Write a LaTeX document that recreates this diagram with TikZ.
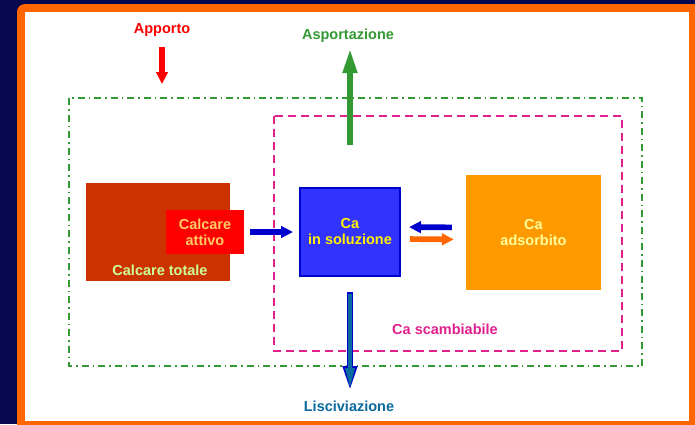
\documentclass[tikz,border=0pt]{standalone}
\usepackage{fontspec}
\setmainfont{Liberation Sans}
\usetikzlibrary{calc,arrows.meta}
\definecolor{fondo}{HTML}{08084E}
\definecolor{cornice}{HTML}{FF6600}
\definecolor{verde}{HTML}{339933}
\definecolor{magenta}{HTML}{E0208C}
\definecolor{mattone}{HTML}{CC3300}
\definecolor{blusol}{HTML}{3333FF}
\definecolor{bluscuro}{HTML}{0000CC}
\definecolor{arancio}{HTML}{FF9900}
\definecolor{ottanio}{HTML}{0B6A9E}
\definecolor{verdino}{HTML}{CCFF99}
\definecolor{crema}{HTML}{FFCC66}
\definecolor{giallino}{HTML}{FFFF99}
\tikzset{
  testo/.style={font=\fontsize{14.5}{16}\selectfont\bfseries,align=center,inner sep=1pt},
  blocco/.style={testo,minimum width=#1,inner sep=0pt},
  freccina/.style={line width=5.7pt,-{Triangle[width=11.5pt,length=12pt]}},
  freccione/.style={line width=6.5pt,-{Triangle[width=13pt,length=26pt]}},
}
\begin{document}
\begin{tikzpicture}[x=1pt,y=-1pt]
  \useasboundingbox (0,0) rectangle (695,424);
  \fill[fondo] (0,0) rectangle (695,424);
  \fill[cornice,rounded corners=8pt] (17,4) rectangle (705,440);
  \fill[white] (25,12) rectangle (689,421);
  % riquadri tratteggiati
  \draw[verde,line width=1.6pt,dash pattern=on 7pt off 4pt on 1.5pt off 4pt] (69,98) rectangle (642,366);
  \draw[magenta,line width=2pt,dash pattern=on 8pt off 5pt] (274,116) rectangle (622,351);
  % blocchi
  \node[blocco=144pt,minimum height=98pt,fill=mattone] (tot) at (158,232) {};
  \node[testo,text=verdino] (totl) at (160,270) {Calcare totale};
  \node[blocco=78pt,minimum height=44pt,fill=red,text=crema] (att) at (205,232) {Calcare\\attivo};
  \node[blocco=100pt,minimum height=88pt,fill=blusol,draw=bluscuro,line width=2pt,text=yellow] (sol) at (350,232) {Ca\\in soluzione};
  \node[blocco=135pt,minimum height=115pt,fill=arancio,text=giallino] (ads) at (533.5,232.5) {Ca\\adsorbito};
  \node[testo,text=magenta] (scamb) at (445,329) {Ca scambiabile};
  % flussi
  \node[testo,text=red] (app) at (162,30) {Apporto};
  \node[testo,text=verde] (asp) at (348,36) {Asportazione};
  \node[testo,text=ottanio] (lisc) at (349,406) {Lisciviazione};
  \coordinate (appa) at (162,47);
  \coordinate (appb) at (162,84);
  \coordinate (aspa) at (350,145);
  \coordinate (aspb) at (350,47);
  \coordinate (lisb) at (350,392);
  \draw[red,freccina] (appa) -- (appb);
  \draw[verde,freccione] (aspa) -- (aspb);
  \draw[bluscuro,freccina,shorten <=6pt,shorten >=6pt] (att.east) -- (sol.west);
  \draw[bluscuro,freccina,shorten <=14pt,shorten >=8pt] ([yshift=5pt]ads.west) -- ([yshift=5pt]sol.east);
  \draw[cornice,freccina,shorten <=9pt,shorten >=12pt] ([yshift=-7pt]sol.east) -- ([yshift=-7pt]ads.west);
  \draw[bluscuro,freccione,shorten <=15pt] (sol.south) -- (lisb);
  \draw[ottanio,line width=3.5pt,-{Triangle[width=9pt,length=20pt]},shorten <=16.5pt,shorten >=4pt] (sol.south) -- (lisb);
\end{tikzpicture}
\end{document}
